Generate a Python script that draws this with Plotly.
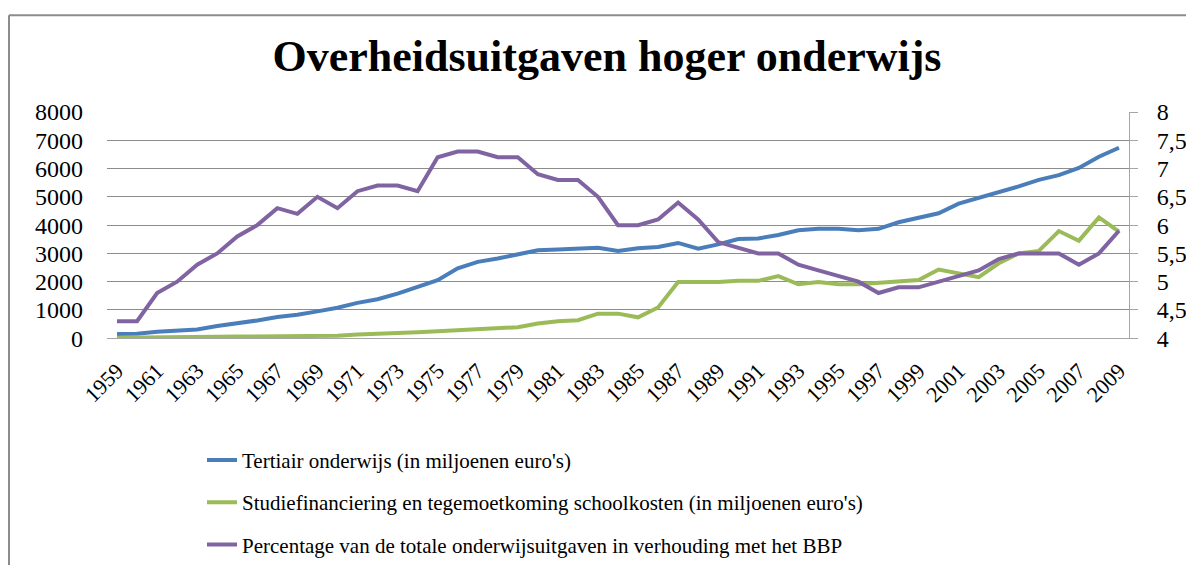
import plotly.graph_objects as go

years = list(range(1959, 2010))

tertiair = [150, 160, 230, 270, 310, 430, 520, 630, 750, 830,
            950, 1080, 1250, 1380, 1580, 1800, 2050, 2470, 2700, 2820,
            2980, 3110, 3140, 3180, 3200, 3090, 3180, 3230, 3370, 3170,
            3320, 3510, 3530, 3650, 3820, 3870, 3870, 3820, 3870, 4100,
            4250, 4420, 4760, 4960, 5160, 5370, 5600, 5770, 6020, 6420,
            6735]

studiefin = [20, 20, 20, 25, 50, 55, 60, 60, 65, 70,
             80, 90, 130, 150, 170, 210, 250, 290, 320, 350,
             390, 520, 600, 640, 870, 870, 740, 1090, 1990, 1990,
             1990, 2030, 2030, 2200, 1910, 1990, 1910, 1910, 1970, 2030,
             2060, 2430, 2310, 2160, 2650, 3000, 3090, 3790, 3450, 4270,
             3770]

percentage = [4.3, 4.3, 4.8, 5.0, 5.3, 5.5, 5.8, 6.0, 6.3, 6.2,
              6.5, 6.3, 6.6, 6.7, 6.7, 6.6, 7.2, 7.3, 7.3, 7.2,
              7.2, 6.9, 6.8, 6.8, 6.5, 6.0, 6.0, 6.1, 6.4, 6.1,
              5.7, 5.6, 5.5, 5.5, 5.3, 5.2, 5.1, 5.0, 4.8, 4.9,
              4.9, 5.0, 5.1, 5.2, 5.4, 5.5, 5.5, 5.5, 5.3, 5.5,
              5.9]

names = [
    "Tertiair onderwijs (in miljoenen euro's)",
    "Studiefinanciering en tegemoetkoming schoolkosten (in miljoenen euro's)",
    "Percentage van de totale onderwijsuitgaven in verhouding met het BBP",
]
colors = ["#4A7EBB", "#9BBB59", "#8064A2"]

left_ticks = [0, 1000, 2000, 3000, 4000, 5000, 6000, 7000, 8000]
right_ticks = [4, 4.5, 5, 5.5, 6, 6.5, 7, 7.5, 8]
right_text = ["4", "4,5", "5", "5,5", "6", "6,5", "7", "7,5", "8"]
x_ticks = [str(y) for y in years[::2]]

xs = [str(y) for y in years]
font = "Liberation Serif"

# figure sized to leave room for the page's default 8px body margin
W, H = 1186, 557
T, B = 104, 0
PH = H - T - B                 # paper height
plot_h = 234                   # pixel height of the data area
dom_bottom = 1 - plot_h / PH


def py(fig_y):
    """figure pixel (from top) -> paper y"""
    return 1 - (fig_y - T) / PH


fig = go.Figure()
fig.add_trace(go.Scatter(x=xs, y=tertiair, name=names[0], mode="lines",
                         line=dict(color=colors[0], width=4), legendgroup="a"))
fig.add_trace(go.Scatter(x=xs, y=studiefin, name=names[1], mode="lines",
                         line=dict(color=colors[1], width=4), legendgroup="b"))
fig.add_trace(go.Scatter(x=xs, y=percentage, name=names[2], mode="lines",
                         line=dict(color=colors[2], width=4), legendgroup="c",
                         yaxis="y2"))

fig.update_layout(
    width=W, height=H,
    margin=dict(l=99, r=W - 1121, t=T, b=B, pad=0),
    paper_bgcolor="white", plot_bgcolor="rgba(0,0,0,0)",
    font=dict(family=font, color="black", size=20),
    title=dict(text="<b>Overheidsuitgaven hoger onderwijs</b>",
               x=599 / W, xanchor="center", y=1 - 48 / H, yanchor="middle",
               font=dict(family=font, size=44, color="black")),
    xaxis=dict(type="category", range=[-0.5, 50.5], tickvals=x_ticks,
               ticktext=x_ticks, tickangle=-45, showgrid=False,
               showline=True, linecolor="#A6A6A6", linewidth=1,
               ticks="", ticklabelstandoff=10, automargin=False,
               tickfont=dict(size=22, family=font, color="black")),
    yaxis=dict(range=[0, 8000], tickvals=left_ticks, domain=[dom_bottom, 1],
               ticktext=[str(v) for v in left_ticks],
               showgrid=True, gridcolor="#8C8C8C", gridwidth=1,
               showline=False, zeroline=False, ticks="", automargin=False,
               ticklabelstandoff=23,
               tickfont=dict(size=24, family=font, color="black")),
    yaxis2=dict(range=[4, 8], overlaying="y", side="right",
                tickvals=right_ticks, ticktext=right_text,
                showgrid=False, showline=True, linecolor="#A6A6A6",
                linewidth=1, ticks="outside", ticklen=8, tickcolor="#A6A6A6",
                zeroline=False, ticklabelstandoff=14, automargin=False,
                tickfont=dict(size=24, family=font, color="black")),
    showlegend=True,
    legend=dict(x=(202 - 107) / 1022, xanchor="left", y=py(443),
                yanchor="top", orientation="v", tracegroupgap=12,
                font=dict(size=21, family=font, color="black"),
                bgcolor="rgba(0,0,0,0)"),
)

# outer chart frame (left and top edges visible in the reference)
frame_x = (9 - 107) / 1022
fig.add_shape(type="line", xref="paper", yref="paper",
              x0=frame_x, x1=frame_x, y0=-0.1, y1=py(4),
              line=dict(color="#8C8C8C", width=2))
fig.add_shape(type="line", xref="paper", yref="paper",
              x0=frame_x, x1=1.2, y0=py(4), y1=py(4),
              line=dict(color="#8C8C8C", width=2))

fig.write_html(
    "out.html",
    post_script="document.documentElement.style.overflow='hidden';"
                "document.body.style.overflow='hidden';",
)
